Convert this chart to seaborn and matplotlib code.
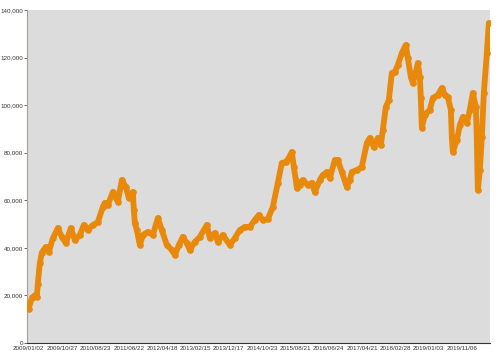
import numpy as np
import pandas as pd
import matplotlib
matplotlib.use("Agg")
import matplotlib.pyplot as plt
import seaborn as sns
from matplotlib.ticker import FuncFormatter

# trading-day index of each reading
day_index = [0, 19, 37, 49, 55, 67, 79, 103, 121, 145, 175, 199, 223, 253, 277,
             307, 331, 355, 385, 415, 445, 457, 475, 505, 535, 559, 583, 601,
             625, 631, 637, 649, 667, 685, 715, 745, 775, 799, 829, 859, 877,
             901, 925, 949, 967, 997, 1027, 1069, 1087, 1117, 1135, 1165, 1207,
             1237, 1267, 1297, 1327, 1357, 1381, 1405, 1435, 1465, 1495, 1519,
             1543, 1561, 1579, 1591, 1603, 1609, 1627, 1645, 1675, 1699, 1717,
             1747, 1765, 1789, 1807, 1837, 1855, 1879, 1909, 1927, 1939, 1969,
             1999, 2029, 2047, 2071, 2095, 2113, 2125, 2143, 2161, 2179, 2197,
             2215, 2239, 2263, 2275, 2293, 2305, 2323, 2335, 2347, 2353, 2359,
             2377, 2407, 2425, 2455, 2479, 2497, 2515, 2533, 2539, 2545, 2569,
             2587, 2605, 2629, 2647, 2665, 2683, 2689, 2695, 2707, 2719, 2731,
             2749, 2761]

values = [14500, 19000, 20000, 19500, 25000, 33600, 38000, 40400, 38300, 44000,
          48300, 44600, 42000, 48300, 43300, 45400, 49600, 47500, 49600, 50800,
          57200, 58900, 58000, 63500, 59300, 68500, 65600, 61000, 63500, 56000,
          50400, 47500, 41200, 45400, 46700, 45400, 52500, 47500, 41200, 39100,
          37000, 41200, 44600, 42000, 39100, 42500, 44600, 49600, 44100, 46200,
          42500, 45400, 41200, 44100, 47500, 48800, 48800, 51700, 53800, 51700,
          52100, 57200, 67300, 75700, 76100, 77800, 80300, 74000, 68500, 65200,
          66400, 68500, 66400, 67300, 63500, 68500, 70600, 71900, 69400, 76900,
          76900, 71900, 65600, 68500, 71900, 72700, 74000, 84100, 86200, 82400,
          86200, 83200, 89500, 99200, 102200, 113500, 113900, 116900, 121900,
          125300, 119800, 111800, 109300, 113900, 117700, 111800, 103000, 90400,
          96000, 98000, 103000, 104300, 107200, 104300, 103400, 98000, 86600,
          80300, 85300, 91600, 95000, 92500, 98000, 105100, 99200, 85300, 64300,
          72700, 86600, 105100, 121900, 134500]

tick_days = [0, 200, 400, 600, 800, 1000, 1200, 1400, 1600, 1800, 2000, 2200, 2400, 2600]
tick_labels = ["2009/01/02", "2009/10/27", "2010/08/23", "2011/06/22", "2012/04/18",
               "2013/02/15", "2013/12/17", "2014/10/23", "2015/08/21", "2016/06/24",
               "2017/04/21", "2018/02/28", "2019/01/03", "2019/11/06"]

df = pd.DataFrame({"day": day_index, "value": values})

sns.set_style("white")
plt.rcParams["font.family"] = ["Liberation Sans", "DejaVu Sans"]

fig = plt.figure(figsize=(5.0, 3.56), dpi=100)
ax = fig.add_axes([27 / 500, 13 / 356, 463 / 500, 333 / 356])
ax.set_facecolor("#dcdcdc")

orange = "#e8890c"
# thin grey connector beneath, orange band of point markers on top
ax.plot(df["day"], df["value"], color="#8a8a8a", linewidth=0.8, zorder=2)
sns.lineplot(data=df, x="day", y="value", ax=ax, color=orange, linewidth=4.2,
             marker="o", markersize=4.8, markeredgewidth=0, markerfacecolor=orange,
             zorder=3)

ax.set_xlim(-10, 2768)
ax.set_ylim(0, 140000)
ax.set_yticks(np.arange(0, 140001, 20000))
ax.yaxis.set_major_formatter(FuncFormatter(lambda v, p: f"{int(v):,}"))
ax.set_xticks(tick_days)
ax.set_xticklabels(tick_labels)
ax.set_xlabel("")
ax.set_ylabel("")

ax.tick_params(axis="y", labelsize=4.5, length=2, width=0.6, color="#555555",
               pad=1, labelcolor="#333333", left=True)
ax.tick_params(axis="x", labelsize=4.5, length=0, pad=2.5, labelcolor="#333333")

for s in ["top", "right"]:
    ax.spines[s].set_visible(False)
ax.spines["left"].set_color("#a89f94")
ax.spines["left"].set_linewidth(0.8)
ax.spines["bottom"].set_color("#333333")
ax.spines["bottom"].set_linewidth(0.8)

fig.savefig("out.png", dpi=100)
